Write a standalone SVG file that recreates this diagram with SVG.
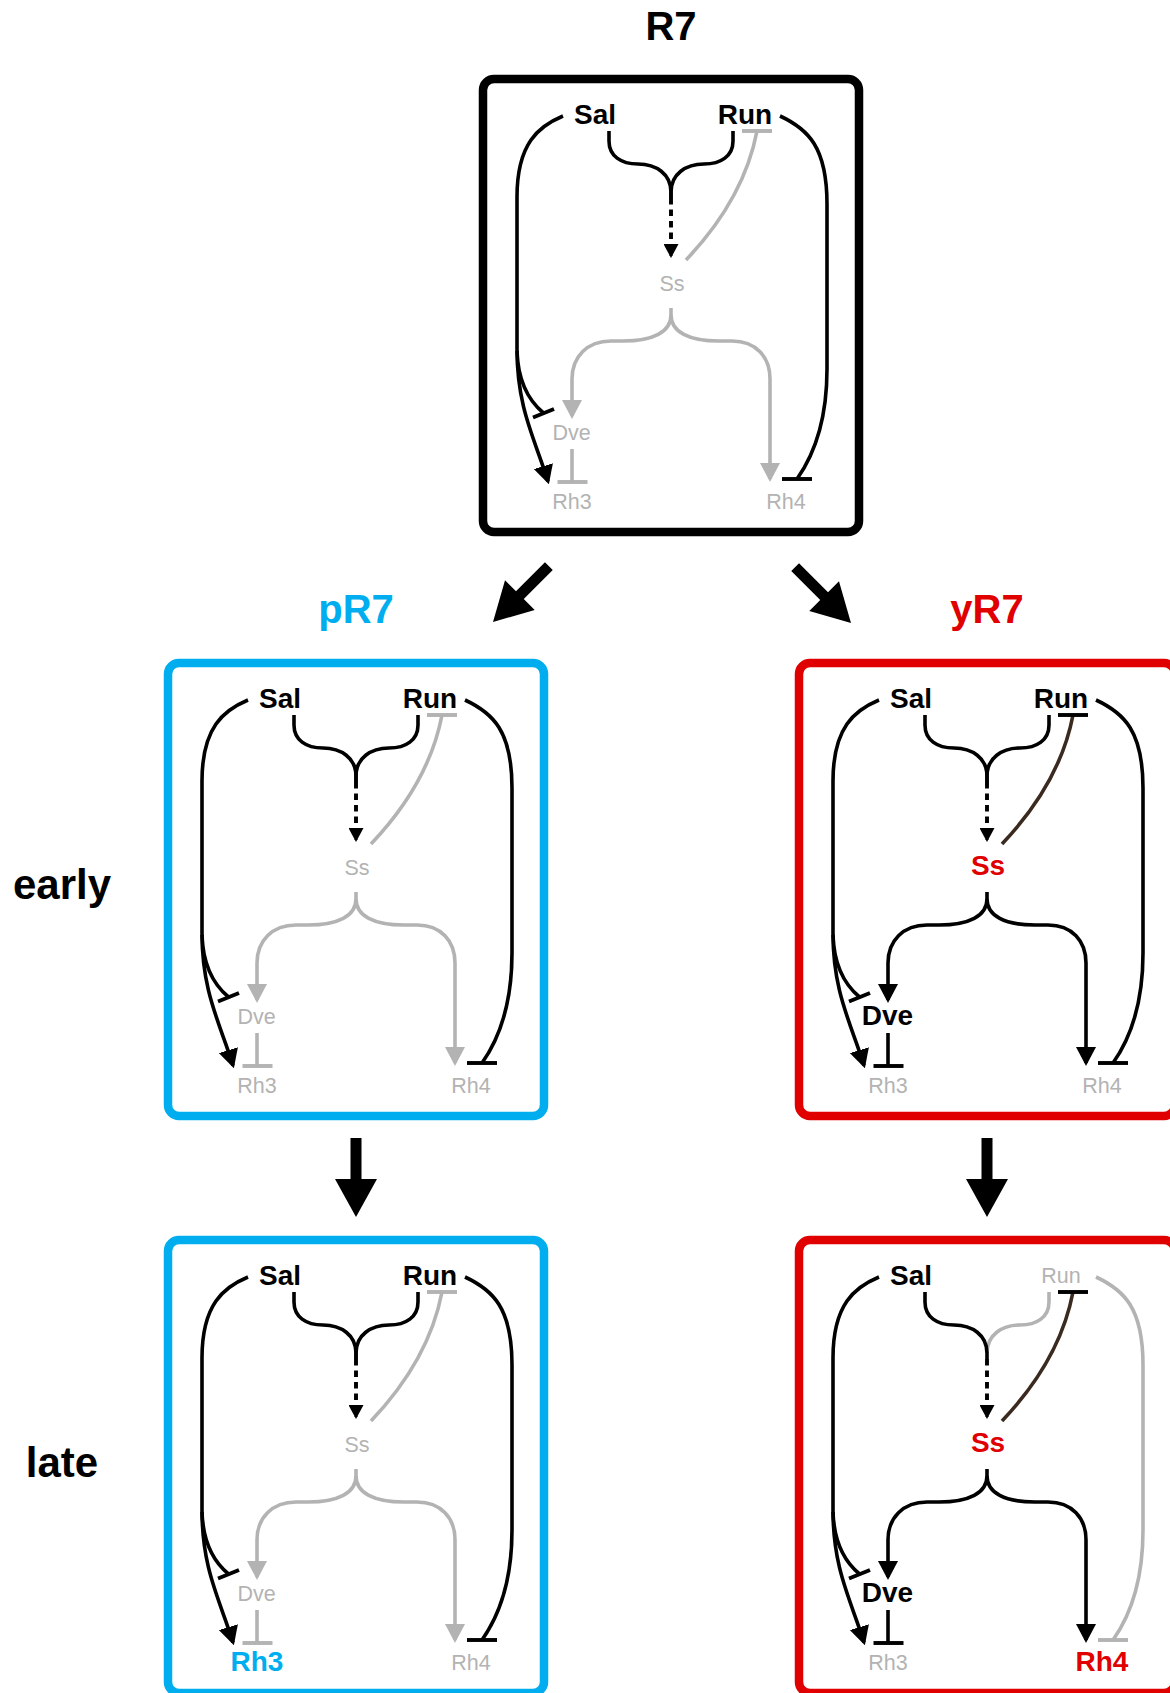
<svg xmlns="http://www.w3.org/2000/svg" width="1170" height="1693" viewBox="0 0 1170 1693">
<style>
  .box{fill:#fff;stroke-width:8.5}
  .e{fill:none;stroke-width:3.6}
  .bar{stroke-width:3.9}
  .dot{stroke-dasharray:6.5 5;stroke-width:3.9}
  .k{stroke:#000}
  .g{stroke:#b3b3b3}
  .br{stroke:#3b2a1f}
  text{font-family:"Liberation Sans",Arial,Helvetica,sans-serif;text-anchor:middle}
  .t1{font-size:28px;font-weight:bold}
  .t2{font-size:21.5px}
  .ttl{font-size:40px;font-weight:bold}
  .side{font-size:42px;font-weight:bold}
  .fk{fill:#000}
  .fg{fill:#b3b3b3}
  .fr{fill:#e00000}
  .fb{fill:#00aeef}
</style>
<defs>
  <marker id="mk" viewBox="0 0 19 21" refX="16" refY="10.5" markerWidth="19" markerHeight="21" markerUnits="userSpaceOnUse" orient="auto">
    <path d="M0,0.5 L19,10.5 L0,20.5Z" fill="#000"/>
  </marker>
  <marker id="mg" viewBox="0 0 19 21" refX="16" refY="10.5" markerWidth="19" markerHeight="21" markerUnits="userSpaceOnUse" orient="auto">
    <path d="M0,0.5 L19,10.5 L0,20.5Z" fill="#b3b3b3"/>
  </marker>
  <marker id="ms" viewBox="0 0 14 15" refX="12" refY="7.5" markerWidth="14" markerHeight="15" markerUnits="userSpaceOnUse" orient="auto">
    <path d="M0,0 L14,7.5 L0,15Z" fill="#000"/>
  </marker>
  <polygon id="bigArrow" points="-5.5,-79 5.5,-79 5.5,-38 21,-38 0,0 -21,-38 -5.5,-38" fill="#000"/>
</defs>

<!-- titles -->
<g id="titles">
  <text class="ttl fk" x="671" y="40">R7</text>
  <text class="ttl fb" x="356" y="623">pR7</text>
  <text class="ttl fr" x="987" y="623">yR7</text>
  <text class="side fk" x="62" y="899">early</text>
  <text class="side fk" x="62" y="1477">late</text>
</g>

<!-- transitions between cell states -->
<g id="transitions">
  <use href="#bigArrow" transform="translate(493,622) rotate(45)"/>
  <use href="#bigArrow" transform="translate(851,623) rotate(-45)"/>
  <use href="#bigArrow" transform="translate(356,1217)"/>
  <use href="#bigArrow" transform="translate(987,1217)"/>
</g>

<!-- R7 (undecided) -->
<g id="panel-r7" transform="translate(483,79)">
  <rect class="box" x="0" y="0" width="376" height="453" rx="11" stroke="#000"/>
  <g id="r7-edges">
    <path class="e k" d="M80,37 C56,47 34,64 34,118 L34,270 C34,330 52,360 65,402.5" marker-end="url(#mk)"/>
    <path class="e k" d="M34,272 C35,302 46,322 60.5,334"/>
    <line class="e bar k" x1="50" y1="338.5" x2="71" y2="330"/>
    <path class="e k" d="M250,52 V62 C250,77 238,85 221,85 C203,85 188,95 188,113 V119"/>
    <path class="e k" d="M126,52 V62 C126,77 138,85 155,85 C173,85 188,95 188,113 V119"/>
    <path class="e dot k" d="M188,119 V177" marker-end="url(#ms)"/>
    <path class="e g" d="M203,181 Q261,120 274,52"/>
    <line class="e bar g" x1="259" y1="52" x2="289" y2="52"/>
    <path class="e g" d="M188,229 V236 C188,253 170,262 140,262 H128 C104,262 89,278 89,300 V337" marker-end="url(#mg)"/>
    <path class="e g" d="M188,236 C188,253 206,262 236,262 H249 C273,262 287,278 287,300 V400" marker-end="url(#mg)"/>
    <path class="e g" d="M89,370 V403"/>
    <line class="e bar g" x1="74.5" y1="403" x2="104.5" y2="403"/>
    <path class="e k" d="M297,37 C325,50 344,68 344,125 L344,290 C344,340 331,376 314,400"/>
    <line class="e bar k" x1="299" y1="400" x2="329" y2="400"/>
  </g>
  <g id="r7-sal"><text class="t1 fk" x="112" y="45">Sal</text></g>
  <g id="r7-run"><text class="t1 fk" x="262" y="45">Run</text></g>
  <g id="r7-ss"><text class="t2 fg" x="189" y="212">Ss</text></g>
  <g id="r7-dve"><text class="t2 fg" x="88.5" y="361">Dve</text></g>
  <g id="r7-rh3"><text class="t2 fg" x="89" y="430">Rh3</text></g>
  <g id="r7-rh4"><text class="t2 fg" x="303" y="430">Rh4</text></g>
</g>

<!-- pR7 early -->
<g id="panel-pr7-early" transform="translate(168,663)">
  <rect class="box" x="0" y="0" width="376" height="453" rx="11" stroke="#00aeef"/>
  <g id="pe-edges">
    <path class="e k" d="M80,37 C56,47 34,64 34,118 L34,270 C34,330 52,360 65,402.5" marker-end="url(#mk)"/>
    <path class="e k" d="M34,272 C35,302 46,322 60.5,334"/>
    <line class="e bar k" x1="50" y1="338.5" x2="71" y2="330"/>
    <path class="e k" d="M250,52 V62 C250,77 238,85 221,85 C203,85 188,95 188,113 V119"/>
    <path class="e k" d="M126,52 V62 C126,77 138,85 155,85 C173,85 188,95 188,113 V119"/>
    <path class="e dot k" d="M188,119 V177" marker-end="url(#ms)"/>
    <path class="e g" d="M203,181 Q261,120 274,52"/>
    <line class="e bar g" x1="259" y1="52" x2="289" y2="52"/>
    <path class="e g" d="M188,229 V236 C188,253 170,262 140,262 H128 C104,262 89,278 89,300 V337" marker-end="url(#mg)"/>
    <path class="e g" d="M188,236 C188,253 206,262 236,262 H249 C273,262 287,278 287,300 V400" marker-end="url(#mg)"/>
    <path class="e g" d="M89,370 V403"/>
    <line class="e bar g" x1="74.5" y1="403" x2="104.5" y2="403"/>
    <path class="e k" d="M297,37 C325,50 344,68 344,125 L344,290 C344,340 331,376 314,400"/>
    <line class="e bar k" x1="299" y1="400" x2="329" y2="400"/>
  </g>
  <g id="pe-sal"><text class="t1 fk" x="112" y="45">Sal</text></g>
  <g id="pe-run"><text class="t1 fk" x="262" y="45">Run</text></g>
  <g id="pe-ss"><text class="t2 fg" x="189" y="212">Ss</text></g>
  <g id="pe-dve"><text class="t2 fg" x="88.5" y="361">Dve</text></g>
  <g id="pe-rh3"><text class="t2 fg" x="89" y="430">Rh3</text></g>
  <g id="pe-rh4"><text class="t2 fg" x="303" y="430">Rh4</text></g>
</g>

<!-- pR7 late -->
<g id="panel-pr7-late" transform="translate(168,1240)">
  <rect class="box" x="0" y="0" width="376" height="453" rx="11" stroke="#00aeef"/>
  <g id="pl-edges">
    <path class="e k" d="M80,37 C56,47 34,64 34,118 L34,270 C34,330 52,360 65,402.5" marker-end="url(#mk)"/>
    <path class="e k" d="M34,272 C35,302 46,322 60.5,334"/>
    <line class="e bar k" x1="50" y1="338.5" x2="71" y2="330"/>
    <path class="e k" d="M250,52 V62 C250,77 238,85 221,85 C203,85 188,95 188,113 V119"/>
    <path class="e k" d="M126,52 V62 C126,77 138,85 155,85 C173,85 188,95 188,113 V119"/>
    <path class="e dot k" d="M188,119 V177" marker-end="url(#ms)"/>
    <path class="e g" d="M203,181 Q261,120 274,52"/>
    <line class="e bar g" x1="259" y1="52" x2="289" y2="52"/>
    <path class="e g" d="M188,229 V236 C188,253 170,262 140,262 H128 C104,262 89,278 89,300 V337" marker-end="url(#mg)"/>
    <path class="e g" d="M188,236 C188,253 206,262 236,262 H249 C273,262 287,278 287,300 V400" marker-end="url(#mg)"/>
    <path class="e g" d="M89,370 V403"/>
    <line class="e bar g" x1="74.5" y1="403" x2="104.5" y2="403"/>
    <path class="e k" d="M297,37 C325,50 344,68 344,125 L344,290 C344,340 331,376 314,400"/>
    <line class="e bar k" x1="299" y1="400" x2="329" y2="400"/>
  </g>
  <g id="pl-sal"><text class="t1 fk" x="112" y="45">Sal</text></g>
  <g id="pl-run"><text class="t1 fk" x="262" y="45">Run</text></g>
  <g id="pl-ss"><text class="t2 fg" x="189" y="212">Ss</text></g>
  <g id="pl-dve"><text class="t2 fg" x="88.5" y="361">Dve</text></g>
  <g id="pl-rh3"><text class="t1 fb" x="89" y="431">Rh3</text></g>
  <g id="pl-rh4"><text class="t2 fg" x="303" y="430">Rh4</text></g>
</g>

<!-- yR7 early -->
<g id="panel-yr7-early" transform="translate(799,663)">
  <rect class="box" x="0" y="0" width="376" height="453" rx="11" stroke="#e00000"/>
  <g id="ye-edges">
    <path class="e k" d="M80,37 C56,47 34,64 34,118 L34,270 C34,330 52,360 65,402.5" marker-end="url(#mk)"/>
    <path class="e k" d="M34,272 C35,302 46,322 60.5,334"/>
    <line class="e bar k" x1="50" y1="338.5" x2="71" y2="330"/>
    <path class="e k" d="M250,52 V62 C250,77 238,85 221,85 C203,85 188,95 188,113 V119"/>
    <path class="e k" d="M126,52 V62 C126,77 138,85 155,85 C173,85 188,95 188,113 V119"/>
    <path class="e dot k" d="M188,119 V177" marker-end="url(#ms)"/>
    <path class="e br" d="M203,181 Q261,120 274,52"/>
    <line class="e bar k" x1="259" y1="52" x2="289" y2="52"/>
    <path class="e k" d="M188,229 V236 C188,253 170,262 140,262 H128 C104,262 89,278 89,300 V337" marker-end="url(#mk)"/>
    <path class="e k" d="M188,236 C188,253 206,262 236,262 H249 C273,262 287,278 287,300 V400" marker-end="url(#mk)"/>
    <path class="e k" d="M89,370 V403"/>
    <line class="e bar k" x1="74.5" y1="403" x2="104.5" y2="403"/>
    <path class="e k" d="M297,37 C325,50 344,68 344,125 L344,290 C344,340 331,376 314,400"/>
    <line class="e bar k" x1="299" y1="400" x2="329" y2="400"/>
  </g>
  <g id="ye-sal"><text class="t1 fk" x="112" y="45">Sal</text></g>
  <g id="ye-run"><text class="t1 fk" x="262" y="45">Run</text></g>
  <g id="ye-ss"><text class="t1 fr" x="189" y="212">Ss</text></g>
  <g id="ye-dve"><text class="t1 fk" x="88.5" y="362">Dve</text></g>
  <g id="ye-rh3"><text class="t2 fg" x="89" y="430">Rh3</text></g>
  <g id="ye-rh4"><text class="t2 fg" x="303" y="430">Rh4</text></g>
</g>

<!-- yR7 late -->
<g id="panel-yr7-late" transform="translate(799,1240)">
  <rect class="box" x="0" y="0" width="376" height="453" rx="11" stroke="#e00000"/>
  <g id="yl-edges">
    <path class="e k" d="M80,37 C56,47 34,64 34,118 L34,270 C34,330 52,360 65,402.5" marker-end="url(#mk)"/>
    <path class="e k" d="M34,272 C35,302 46,322 60.5,334"/>
    <line class="e bar k" x1="50" y1="338.5" x2="71" y2="330"/>
    <path class="e g" d="M250,52 V62 C250,77 238,85 221,85 C203,85 188,95 188,113"/>
    <path class="e k" d="M126,52 V62 C126,77 138,85 155,85 C173,85 188,95 188,113 V119"/>
    <path class="e dot k" d="M188,119 V177" marker-end="url(#ms)"/>
    <path class="e br" d="M203,181 Q261,120 274,52"/>
    <line class="e bar k" x1="259" y1="52" x2="289" y2="52"/>
    <path class="e k" d="M188,229 V236 C188,253 170,262 140,262 H128 C104,262 89,278 89,300 V337" marker-end="url(#mk)"/>
    <path class="e k" d="M188,236 C188,253 206,262 236,262 H249 C273,262 287,278 287,300 V400" marker-end="url(#mk)"/>
    <path class="e k" d="M89,370 V403"/>
    <line class="e bar k" x1="74.5" y1="403" x2="104.5" y2="403"/>
    <path class="e g" d="M297,37 C325,50 344,68 344,125 L344,290 C344,340 331,376 314,400"/>
    <line class="e bar g" x1="299" y1="400" x2="329" y2="400"/>
  </g>
  <g id="yl-sal"><text class="t1 fk" x="112" y="45">Sal</text></g>
  <g id="yl-run"><text class="t2 fg" x="262" y="43">Run</text></g>
  <g id="yl-ss"><text class="t1 fr" x="189" y="212">Ss</text></g>
  <g id="yl-dve"><text class="t1 fk" x="88.5" y="362">Dve</text></g>
  <g id="yl-rh3"><text class="t2 fg" x="89" y="430">Rh3</text></g>
  <g id="yl-rh4"><text class="t1 fr" x="303" y="431">Rh4</text></g>
</g>
</svg>
